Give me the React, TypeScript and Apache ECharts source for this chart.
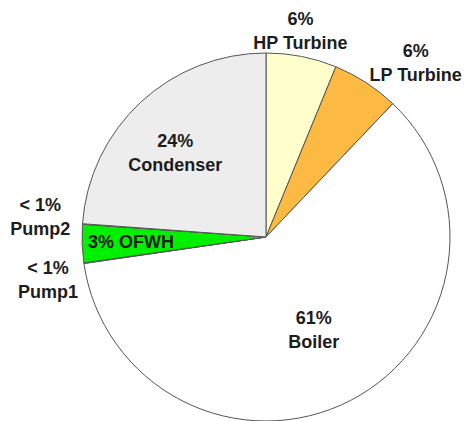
import React, { useEffect, useRef } from "react";
import * as echarts from "echarts";

const categories = ["HP Turbine", "LP Turbine", "Boiler", "Pump1", "OFWH", "Pump2", "Condenser"];
const values = [6.2, 5.9, 60.6, 0.05, 3.35, 0.05, 23.85];
const percentLabels = ["6%", "6%", "61%", "< 1%", "3%", "< 1%", "24%"];

const colors = ["#FFFFCC", "#FDBA42", "#FFFFFF", "#FFFFFF", "#00F000", "#FFFFFF", "#EDEDED"];
const labelOffsets: [number, number][] = [
  [16, -113],
  [98, -94.5],
  [4, 8.5],
  [-124, 29],
  [-40, 1.5],
  [-131, -13.5],
  [-26, -14],
];

export default function App() {
  const ref = useRef<HTMLDivElement>(null);
  useEffect(() => {
    document.body.style.margin = "0";
    const chart = echarts.init(ref.current!, undefined, { renderer: "svg" });
    const data = categories.map((name, i) => ({
      name,
      value: values[i],
      itemStyle: { color: colors[i] },
      label: {
        offset: labelOffsets[i],
        formatter: name === "OFWH" ? `${percentLabels[i]} ${name}` : `${percentLabels[i]}\n${name}`,
      },
    }));
    chart.setOption({
      animation: false,
      series: [
        {
          type: "pie",
          center: [266, 237],
          radius: [0, 184],
          startAngle: 90,
          clockwise: true,
          minShowLabelAngle: 0,
          avoidLabelOverlap: false,
          itemStyle: { borderColor: "#555555", borderWidth: 1 },
          label: {
            show: true,
            position: "inside",
            color: "#1c1c1c",
            fontFamily: "Arial, 'Liberation Sans', sans-serif",
            fontWeight: "bold",
            fontSize: 18,
            lineHeight: 24,
            align: "center",
          },
          labelLine: { show: false },
          emphasis: { disabled: true },
          data,
        },
      ],
    });
    return () => chart.dispose();
  }, []);
  return <div ref={ref} style={{ width: 467, height: 421 }} />;
}
